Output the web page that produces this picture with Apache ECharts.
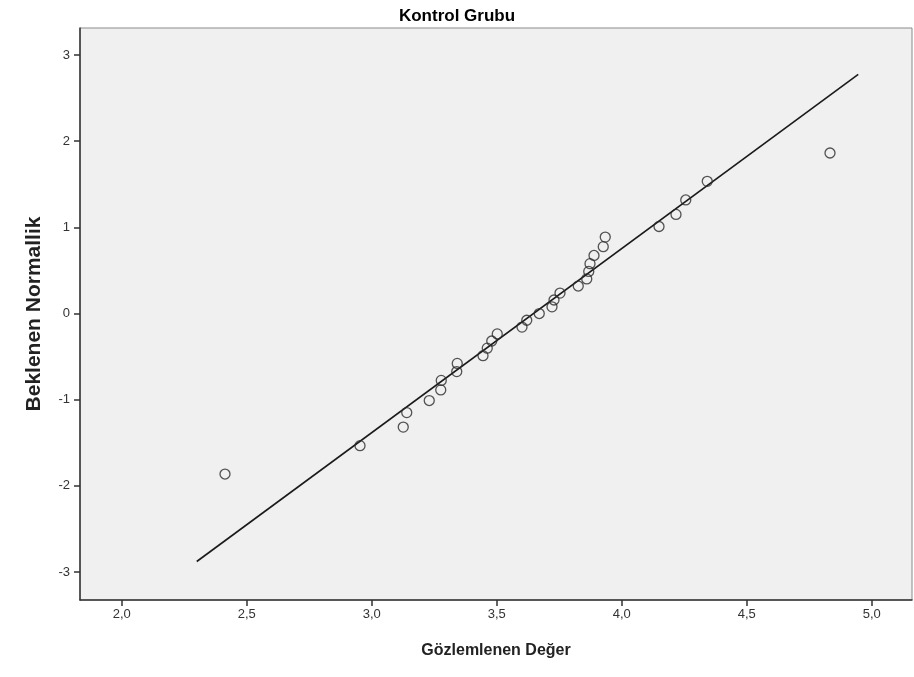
<!DOCTYPE html>
<html>
<head>
<meta charset="utf-8">
<title>Kontrol Grubu</title>
<script src="https://cdn.jsdelivr.net/npm/echarts@6/dist/echarts.min.js"></script>
<style>
  html, body { margin: 0; padding: 0; background: #ffffff; }
  #chart { width: 914px; height: 677px; }
</style>
</head>
<body>
<div id="chart"></div>
<script>
// Observed values (sorted) and their expected normal scores
const observed = [
  2.413, 2.953, 3.126, 3.140, 3.230, 3.276, 3.278, 3.340, 3.342, 3.445,
  3.462, 3.480, 3.502, 3.601, 3.620, 3.670, 3.721, 3.729, 3.753, 3.826,
  3.860, 3.868, 3.873, 3.889, 3.926, 3.934, 4.149, 4.217, 4.256, 4.342,
  4.833
];
const expected = [
  -1.863, -1.534, -1.318, -1.150, -1.010, -0.887, -0.776, -0.674, -0.579, -0.489,
  -0.402, -0.319, -0.237, -0.157, -0.078, 0.000, 0.078, 0.157, 0.237, 0.319,
  0.402, 0.489, 0.579, 0.674, 0.776, 0.887, 1.010, 1.150, 1.318, 1.534,
  1.863
];

// Reference line ends
const refLineX = [2.300, 4.946];
const refLineY = [-2.878, 2.776];

// Tick labels
const xTicks = [2.0, 2.5, 3.0, 3.5, 4.0, 4.5, 5.0];
const yTicks = [-3, -2, -1, 0, 1, 2, 3];

const chartTitle = 'Kontrol Grubu';
const xTitle = 'Gözlemlenen Değer';
const yTitle = 'Beklenen Normallik';

const points = observed.map((v, i) => [v, expected[i]]);
const linePts = refLineX.map((v, i) => [v, refLineY[i]]);

const sans = "'Liberation Sans', Arial, sans-serif";

const chart = echarts.init(document.getElementById('chart'), null, { renderer: 'canvas' });

chart.setOption({
  backgroundColor: '#ffffff',
  animation: false,
  title: {
    text: chartTitle,
    left: 'center',
    top: 3,
    textStyle: { fontFamily: sans, fontSize: 17, fontWeight: 'bold', color: '#000' }
  },
  grid: {
    left: 80, right: 2, top: 28, bottom: 77,
    show: true,
    backgroundColor: '#f0f0f0',
    borderColor: '#8a8a8a',
    borderWidth: 1
  },
  xAxis: {
    type: 'value',
    min: 1.833,
    max: 5.161,
    name: xTitle,
    nameLocation: 'middle',
    nameGap: 43,
    nameTextStyle: { fontFamily: sans, fontSize: 16, fontWeight: 'bold', color: '#222' },
    axisLine: { show: true, onZero: false, lineStyle: { color: '#333', width: 1.5 } },
    axisTick: { show: true, length: 6, customValues: xTicks, lineStyle: { color: '#333', width: 1.5 } },
    axisLabel: {
      customValues: xTicks,
      margin: 8,
      fontFamily: sans, fontSize: 13, color: '#333',
      formatter: v => v.toFixed(1).replace('.', ',')
    },
    splitLine: { show: false }
  },
  yAxis: {
    type: 'value',
    min: -3.325,
    max: 3.314,
    name: yTitle,
    nameLocation: 'middle',
    nameGap: 35,
    nameTextStyle: { fontFamily: sans, fontSize: 21, fontWeight: 'bold', color: '#222' },
    axisLine: { show: true, onZero: false, lineStyle: { color: '#333', width: 1.5 } },
    axisTick: { show: true, length: 6, customValues: yTicks, lineStyle: { color: '#333', width: 1.5 } },
    axisLabel: {
      customValues: yTicks,
      margin: 10,
      fontFamily: sans, fontSize: 13, color: '#333',
      formatter: v => String(v)
    },
    splitLine: { show: false }
  },
  series: [
    {
      type: 'line',
      data: linePts,
      symbol: 'none',
      lineStyle: { color: '#1a1a1a', width: 1.6 },
      silent: true,
      z: 2
    },
    {
      type: 'scatter',
      data: points,
      symbol: 'circle',
      symbolSize: 10,
      itemStyle: { color: 'rgba(0,0,0,0)', borderColor: '#2b2b2b', borderWidth: 1.3 },
      z: 3
    }
  ]
});
</script>
</body>
</html>
